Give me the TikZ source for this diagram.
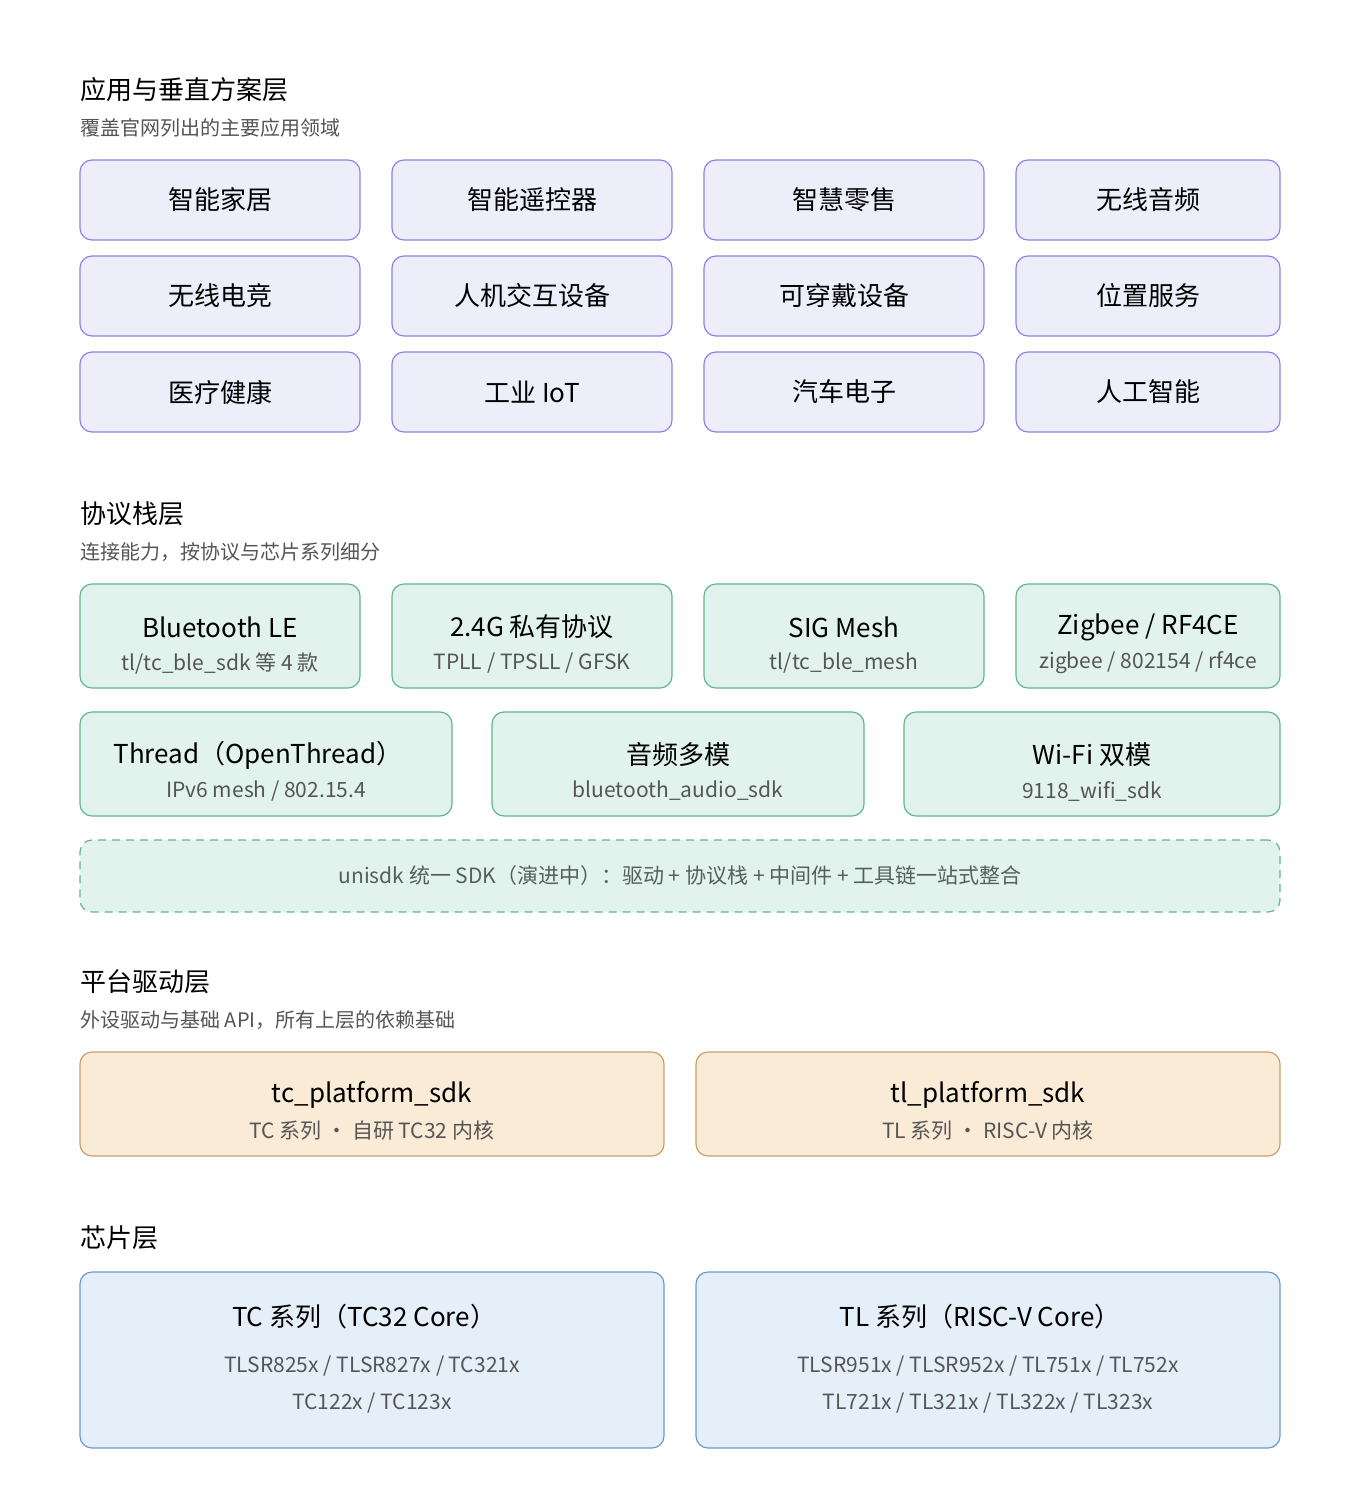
\documentclass[tikz,border=0pt]{standalone}
\usepackage{fontspec}
\setmainfont{Noto Sans CJK SC}
\usetikzlibrary{positioning}
\definecolor{appfill}{HTML}{EEEEFB}
\definecolor{appline}{HTML}{8C84E0}
\definecolor{profill}{HTML}{E1F3EC}
\definecolor{proline}{HTML}{5DB88A}
\definecolor{platfill}{HTML}{FAEBD7}
\definecolor{platline}{HTML}{C8A070}
\definecolor{chipfill}{HTML}{E5EFFA}
\definecolor{chipline}{HTML}{6A9AD0}
\definecolor{subgray}{HTML}{555555}
\begin{document}
\begin{tikzpicture}[
    x=0.5pt, y=-0.5pt,
    inner sep=0pt,
    head/.style={anchor=west,font=\fontsize{13}{15}\selectfont,text=black},
    sub/.style={anchor=west,font=\fontsize{10}{12}\selectfont,text=subgray},
    box/.style={rounded corners=6pt,line width=0.6pt,minimum height=40pt,
        font=\fontsize{13}{15}\selectfont},
    app/.style={box,draw=appline,fill=appfill},
    pro/.style={box,draw=proline,fill=profill,minimum height=52pt},
    plat/.style={box,draw=platline,fill=platfill,minimum height=52pt},
    chip/.style={box,draw=chipline,fill=chipfill,minimum height=88pt},
    ttl/.style={font=\fontsize{13}{15}\selectfont},
    ln/.style={font=\fontsize{10.5}{12}\selectfont,text=subgray},
    ]
    \useasboundingbox[fill=white] (0,0) rectangle (1360,1488);

    %application layer
    \node[head] (h1) at (80,90) {应用与垂直方案层};
    \node[sub] (s1) at (80,128) {覆盖官网列出的主要应用领域};
    \node[app,minimum width=140pt] (a11) at (220,200) {智能家居};
    \node[app,minimum width=140pt] (a12) at (532,200) {智能遥控器};
    \node[app,minimum width=140pt] (a13) at (844,200) {智慧零售};
    \node[app,minimum width=132pt] (a14) at (1148,200) {无线音频};
    \node[app,minimum width=140pt] (a21) at (220,296) {无线电竞};
    \node[app,minimum width=140pt] (a22) at (532,296) {人机交互设备};
    \node[app,minimum width=140pt] (a23) at (844,296) {可穿戴设备};
    \node[app,minimum width=132pt] (a24) at (1148,296) {位置服务};
    \node[app,minimum width=140pt] (a31) at (220,392) {医疗健康};
    \node[app,minimum width=140pt] (a32) at (532,392) {工业 IoT};
    \node[app,minimum width=140pt] (a33) at (844,392) {汽车电子};
    \node[app,minimum width=132pt] (a34) at (1148,392) {人工智能};

    %protocol layer
    \node[head] (h2) at (80,514) {协议栈层};
    \node[sub] (s2) at (80,552) {连接能力，按协议与芯片系列细分};
    \node[pro,minimum width=140pt] (p1) at (220,636) {};
    \node[pro,minimum width=140pt] (p2) at (532,636) {};
    \node[pro,minimum width=140pt] (p3) at (844,636) {};
    \node[pro,minimum width=132pt] (p4) at (1148,636) {};
    \node[pro,minimum width=186pt] (p5) at (266,764) {};
    \node[pro,minimum width=186pt] (p6) at (678,764) {};
    \node[pro,minimum width=188pt] (p7) at (1092,764) {};
    \node[ttl] (t1) at (220,627) {Bluetooth LE};
    \node[ln] (l1) at (220,663) {tl/tc\_ble\_sdk 等 4 款};
    \node[ttl] (t2) at (532,627) {2.4G 私有协议};
    \node[ln] (l2) at (532,663) {TPLL / TPSLL / GFSK};
    \node[ttl] (t3) at (844,627) {SIG Mesh};
    \node[ln] (l3) at (844,663) {tl/tc\_ble\_mesh};
    \node[ttl] (t4) at (1148,627) {Zigbee / RF4CE};
    \node[ln] (l4) at (1148,663) {zigbee / 802154 / rf4ce};
    \node[ttl] (t5) at (258,755) {Thread（OpenThread）};
    \node[ln] (l5) at (266,791) {IPv6 mesh / 802.15.4};
    \node[ttl] (t6) at (678,755) {音频多模};
    \node[ln] (l6) at (678,791) {bluetooth\_audio\_sdk};
    \node[ttl] (t7) at (1092,755) {Wi-Fi 双模};
    \node[ln] (l7) at (1092,791) {9118\_wifi\_sdk};
    \node[box,draw=proline,fill=profill,dashed,dash pattern=on 4pt off 3pt,
        minimum width=600pt,minimum height=36pt,ln,text=subgray!90!proline]
        (uni) at (680,876) {unisdk 统一 SDK（演进中）：驱动 + 协议栈 + 中间件 + 工具链一站式整合};

    %platform layer
    \node[head] (h3) at (80,982) {平台驱动层};
    \node[sub] (s3) at (80,1020) {外设驱动与基础 API，所有上层的依赖基础};
    \node[plat,minimum width=292pt] (d1) at (372,1104) {};
    \node[plat,minimum width=292pt] (d2) at (988,1104) {};
    \node[ttl] (dt1) at (372,1095) {tc\_platform\_sdk};
    \node[ln] (dl1) at (372,1131) {TC 系列 · 自研 TC32 内核};
    \node[ttl] (dt2) at (988,1095) {tl\_platform\_sdk};
    \node[ln] (dl2) at (988,1131) {TL 系列 · RISC-V 内核};

    %chip layer
    \node[head] (h4) at (80,1238) {芯片层};
    \node[chip,minimum width=292pt] (c1) at (372,1360) {};
    \node[chip,minimum width=292pt] (c2) at (988,1360) {};
    \node[ttl] (ct1) at (364,1317) {TC 系列（TC32 Core）};
    \node[ln] (cl1) at (372,1366) {TLSR825x / TLSR827x / TC321x};
    \node[ln] (cm1) at (372,1403) {TC122x / TC123x};
    \node[ttl] (ct2) at (980,1317) {TL 系列（RISC-V Core）};
    \node[ln] (cl2) at (988,1366) {TLSR951x / TLSR952x / TL751x / TL752x};
    \node[ln] (cm2) at (988,1403) {TL721x / TL321x / TL322x / TL323x};
\end{tikzpicture}
\end{document}
